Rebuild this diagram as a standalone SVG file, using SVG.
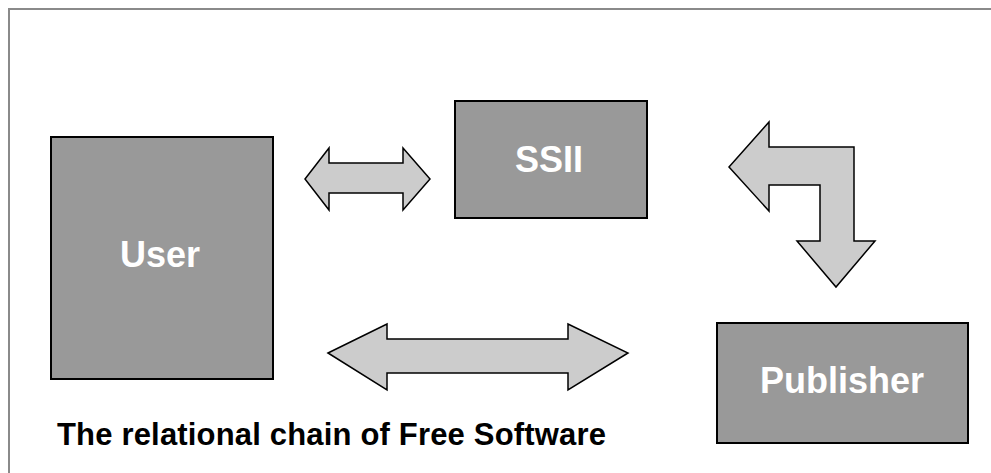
<svg xmlns="http://www.w3.org/2000/svg" width="991" height="473" viewBox="0 0 991 473">
<style>
.box{fill:#999999;stroke:#000;stroke-width:2}
.lbl{font-family:"Liberation Sans",Arial,sans-serif;font-weight:bold;font-size:36px;fill:#fff;text-anchor:middle}
.arr{fill:#cccccc;stroke:#000;stroke-width:1.5;stroke-linejoin:miter}
.cap{font-family:"Liberation Sans",Arial,sans-serif;font-weight:bold;font-size:31px;fill:#000}
</style>
<rect width="991" height="473" fill="#fff"/>
<path d="M9 473 V9 H991" fill="none" stroke="#8a8a8a" stroke-width="2"/>
<g id="user"><rect class="box" x="51" y="137" width="222" height="242"/><text class="lbl" x="160" y="267">User</text></g>
<g id="ssii"><rect class="box" x="455" y="101" width="192" height="117"/><text class="lbl" x="549" y="172">SSII</text></g>
<g id="publisher"><rect class="box" x="717" y="323" width="251" height="120"/><text class="lbl" x="842" y="393">Publisher</text></g>
<g id="connectors">
<polygon class="arr" points="305,179 329,148 329,163 403,163 403,148 430,179 403,210 403,193 329,193 329,210"/>
<polygon class="arr" points="328,353 387,324 387,339 568,339 568,324 628,353 568,390 568,373 387,373 387,390"/>
<polygon class="arr" points="729,167 769,122 769,147 854,147 854,241 875,241 836,287 797,241 820,241 820,185 769,185 769,211"/>
</g>
<text class="cap" x="57" y="445" textLength="549" lengthAdjust="spacing">The relational chain of Free Software</text>
</svg>
